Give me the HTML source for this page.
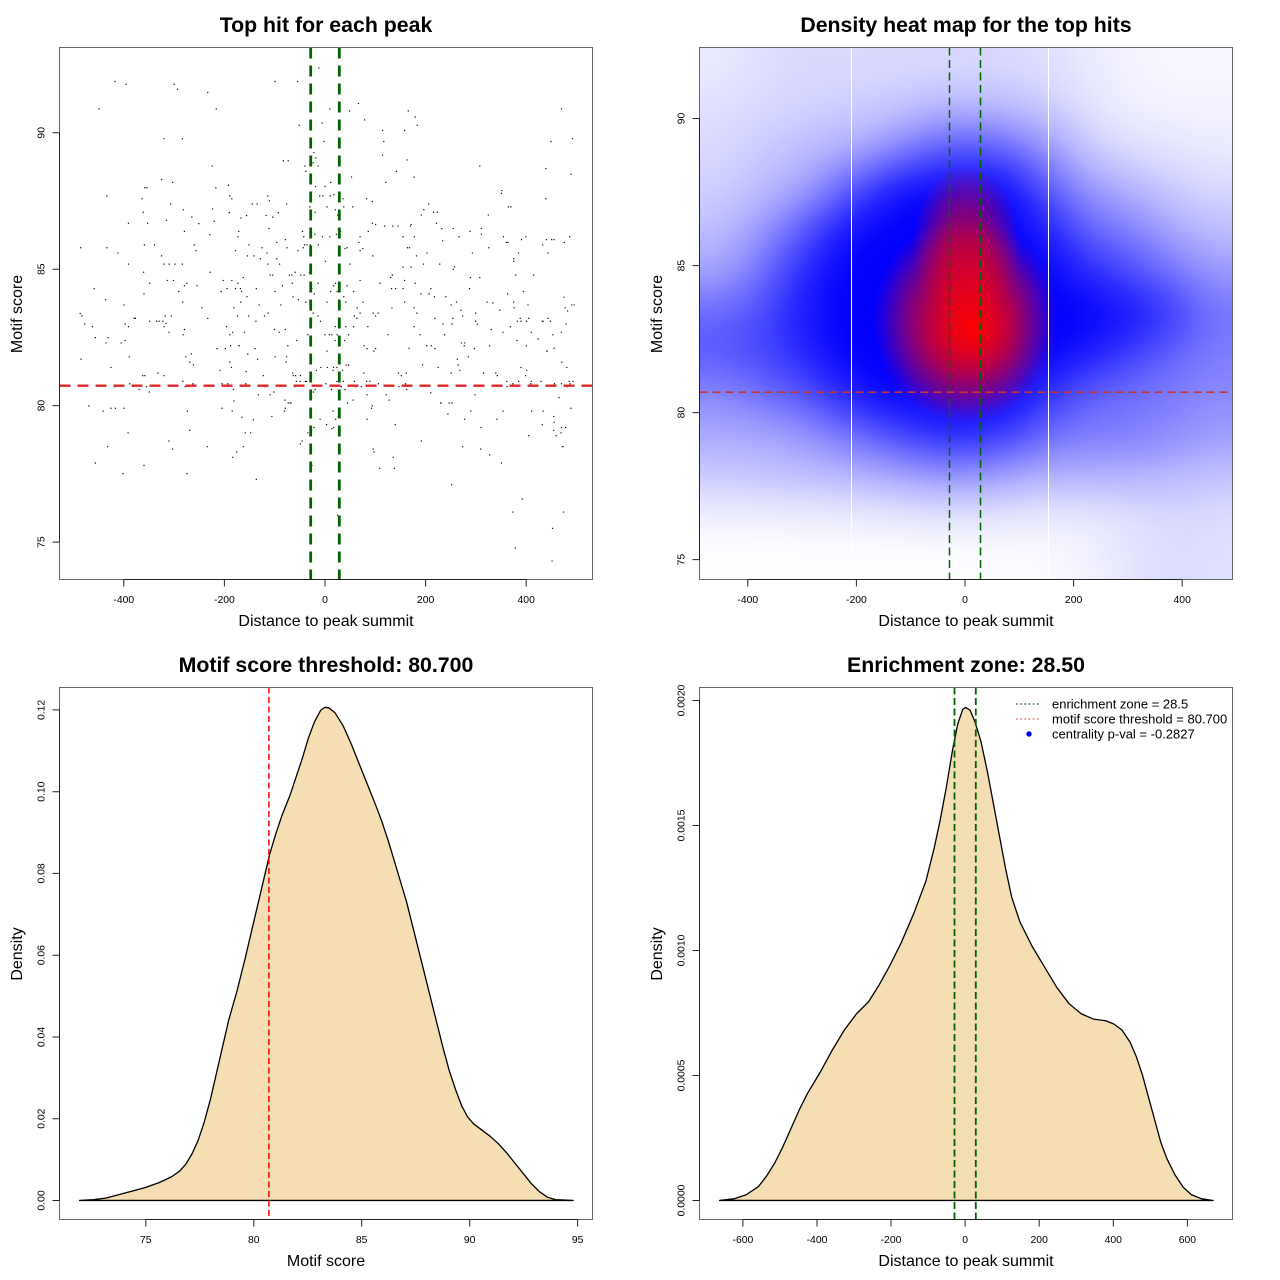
<!DOCTYPE html>
<html><head><meta charset="utf-8"><style>
html,body{margin:0;padding:0;background:#fff}
svg{display:block}
text{font-family:"Liberation Sans",Arial,sans-serif;fill:#000}
.t{font-weight:bold;font-size:21.3px;text-anchor:middle}
.xl{font-size:16px;text-anchor:middle}
.tk{font-size:10.4px;text-anchor:middle}
.lg{font-size:13px}
</style></head><body>
<svg width="1280" height="1280" viewBox="0 0 1280 1280" xmlns="http://www.w3.org/2000/svg">
<defs>
<clipPath id="hm"><rect x="699.5" y="47.5" width="533" height="532"/></clipPath>
<filter id="bl" filterUnits="userSpaceOnUse" x="560" y="-60" width="820" height="760"><feGaussianBlur stdDeviation="22"/></filter>
<radialGradient id="rg1" cx="0.5" cy="0.5" r="0.5" fx="0.54" fy="0.54">
<stop offset="0" stop-color="#f00" stop-opacity="1"/>
<stop offset="0.15" stop-color="#f00" stop-opacity="0.93"/>
<stop offset="0.3" stop-color="#f00" stop-opacity="0.84"/>
<stop offset="0.45" stop-color="#f00" stop-opacity="0.71"/>
<stop offset="0.6" stop-color="#f00" stop-opacity="0.54"/>
<stop offset="0.75" stop-color="#f00" stop-opacity="0.34"/>
<stop offset="0.9" stop-color="#f00" stop-opacity="0.12"/>
<stop offset="1" stop-color="#f00" stop-opacity="0"/>
</radialGradient>
<radialGradient id="rg2" cx="0.5" cy="0.5" r="0.5">
<stop offset="0" stop-color="#f00" stop-opacity="0.6"/>
<stop offset="0.4" stop-color="#f00" stop-opacity="0.5"/>
<stop offset="0.7" stop-color="#f00" stop-opacity="0.28"/>
<stop offset="1" stop-color="#f00" stop-opacity="0"/>
</radialGradient>
</defs>

<!-- ================= TOP LEFT: scatter ================= -->
<text class="t" x="326" y="32">Top hit for each peak</text>
<g transform="scale(0.408497)">
<path fill="#111" d="M779 165h3v3h-3zM280 198h3v3h-3zM307 205h3v3h-3zM425 205h3v3h-3zM433 217h3v3h-3zM672 198h3v3h-3zM727 198h3v3h-3zM507 225h3v3h-3zM528 265h3v3h-3zM241 265h3v3h-3zM876 252h3v3h-3zM854 270h3v3h-3zM806 265h3v3h-3zM998 270h3v3h-3zM1015 285h3v3h-3zM1020 305h3v3h-3zM891 292h3v3h-3zM787 300h3v3h-3zM731 305h3v3h-3zM1373 265h3v3h-3zM935 318h3v3h-3zM989 318h3v3h-3zM400 338h3v3h-3zM445 338h3v3h-3zM1347 345h3v3h-3zM1400 338h3v3h-3zM938 345h3v3h-3zM792 345h3v3h-3zM767 372h3v3h-3zM772 385h3v3h-3zM765 397h3v3h-3zM692 392h3v3h-3zM704 392h3v3h-3zM745 405h3v3h-3zM777 405h3v3h-3zM935 378h3v3h-3zM995 390h3v3h-3zM1173 405h3v3h-3zM518 405h3v3h-3zM1335 411h3v3h-3zM969 418h3v3h-3zM747 418h3v3h-3zM394 438h3v3h-3zM421 445h3v3h-3zM808 445h3v3h-3zM771 455h3v3h-3zM794 455h3v3h-3zM859 432h3v3h-3zM943 445h3v3h-3zM1012 432h3v3h-3zM1396 425h3v3h-3zM1227 465h3v3h-3zM1226 472h3v3h-3zM527 458h3v3h-3zM558 452h3v3h-3zM561 478h3v3h-3zM353 458h3v3h-3zM358 458h3v3h-3zM781 478h3v3h-3zM789 478h3v3h-3zM807 478h3v3h-3zM816 475h3v3h-3zM260 478h3v3h-3zM1335 485h3v3h-3zM1249 505h3v3h-3zM346 485h3v3h-3zM566 485h3v3h-3zM616 498h3v3h-3zM628 498h3v3h-3zM654 478h3v3h-3zM658 490h3v3h-3zM700 498h3v3h-3zM896 485h3v3h-3zM910 492h3v3h-3zM838 485h3v3h-3zM840 505h3v3h-3zM862 505h3v3h-3zM1048 498h3v3h-3zM1036 512h3v3h-3zM1060 518h3v3h-3zM1069 518h3v3h-3zM1194 525h3v3h-3zM349 518h3v3h-3zM360 545h3v3h-3zM416 498h3v3h-3zM447 512h3v3h-3zM468 530h3v3h-3zM519 510h3v3h-3zM523 540h3v3h-3zM560 519h3v3h-3zM588 532h3v3h-3zM602 526h3v3h-3zM650 526h3v3h-3zM666 530h3v3h-3zM680 519h3v3h-3zM757 505h3v3h-3zM770 518h3v3h-3zM799 505h3v3h-3zM819 512h3v3h-3zM825 525h3v3h-3zM910 545h3v3h-3zM960 552h3v3h-3zM1003 552h3v3h-3zM1080 558h3v3h-3zM1108 558h3v3h-3zM1030 525h3v3h-3zM1149 565h3v3h-3zM1177 558h3v3h-3zM1177 572h3v3h-3zM1243 505h3v3h-3zM313 545h3v3h-3zM406 538h3v3h-3zM450 565h3v3h-3zM485 546h3v3h-3zM512 573h3v3h-3zM583 565h3v3h-3zM581 578h3v3h-3zM657 558h3v3h-3zM697 585h3v3h-3zM739 565h3v3h-3zM742 578h3v3h-3zM744 598h3v3h-3zM750 598h3v3h-3zM769 572h3v3h-3zM788 578h3v3h-3zM806 578h3v3h-3zM822 572h3v3h-3zM832 565h3v3h-3zM843 607h3v3h-3zM848 605h3v3h-3zM880 578h3v3h-3zM877 592h3v3h-3zM900 565h3v3h-3zM918 548h3v3h-3zM940 552h3v3h-3zM973 552h3v3h-3zM985 578h3v3h-3zM1005 548h3v3h-3zM1013 578h3v3h-3zM996 605h3v3h-3zM1067 545h3v3h-3zM1082 588h3v3h-3zM1122 578h3v3h-3zM1195 605h3v3h-3zM1231 578h3v3h-3zM1242 592h3v3h-3zM1286 578h3v3h-3zM1327 598h3v3h-3zM1336 585h3v3h-3zM1349 585h3v3h-3zM1355 585h3v3h-3zM1380 592h3v3h-3zM1393 578h3v3h-3zM1275 585h3v3h-3zM196 605h3v3h-3zM260 605h3v3h-3zM352 598h3v3h-3zM377 598h3v3h-3zM474 598h3v3h-3zM478 612h3v3h-3zM575 612h3v3h-3zM608 598h3v3h-3zM640 605h3v3h-3zM676 592h3v3h-3zM701 605h3v3h-3zM728 612h3v3h-3zM741 605h3v3h-3zM758 598h3v3h-3zM778 598h3v3h-3zM229 705h3v3h-3zM287 618h3v3h-3zM313 645h3v3h-3zM350 665h3v3h-3zM394 625h3v3h-3zM427 645h3v3h-3zM400 645h3v3h-3zM413 645h3v3h-3zM445 645h3v3h-3zM408 685h3v3h-3zM450 698h3v3h-3zM513 665h3v3h-3zM545 685h3v3h-3zM566 685h3v3h-3zM581 692h3v3h-3zM604 625h3v3h-3zM620 625h3v3h-3zM636 632h3v3h-3zM652 618h3v3h-3zM676 632h3v3h-3zM683 645h3v3h-3zM654 645h3v3h-3zM660 672h3v3h-3zM666 672h3v3h-3zM690 698h3v3h-3zM707 672h3v3h-3zM713 672h3v3h-3zM721 665h3v3h-3zM735 672h3v3h-3zM714 692h3v3h-3zM743 672h3v3h-3zM756 665h3v3h-3zM795 638h3v3h-3zM829 665h3v3h-3zM855 645h3v3h-3zM880 612h3v3h-3zM887 607h3v3h-3zM911 625h3v3h-3zM1001 605h3v3h-3zM1018 625h3v3h-3zM1005 652h3v3h-3zM1035 645h3v3h-3zM1044 618h3v3h-3zM1075 645h3v3h-3zM1108 658h3v3h-3zM1111 652h3v3h-3zM1155 618h3v3h-3zM1238 592h3v3h-3zM1256 632h3v3h-3zM1256 638h3v3h-3zM1268 618h3v3h-3zM1305 672h3v3h-3zM1340 618h3v3h-3zM1261 672h3v3h-3zM1173 678h3v3h-3zM959 672h3v3h-3zM955 678h3v3h-3zM985 652h3v3h-3zM989 685h3v3h-3zM1015 692h3v3h-3zM1053 705h3v3h-3zM929 692h3v3h-3zM967 705h3v3h-3zM880 685h3v3h-3zM848 698h3v3h-3zM762 705h3v3h-3zM777 692h3v3h-3zM594 678h3v3h-3zM587 705h3v3h-3zM365 692h3v3h-3zM423 685h3v3h-3zM456 692h3v3h-3zM481 698h3v3h-3zM554 705h3v3h-3zM626 705h3v3h-3zM195 766h3v3h-3zM199 772h3v3h-3zM206 792h3v3h-3zM257 732h3v3h-3zM302 745h3v3h-3zM327 778h3v3h-3zM365 785h3v3h-3zM351 718h3v3h-3zM388 785h3v3h-3zM400 798h3v3h-3zM397 785h3v3h-3zM418 772h3v3h-3zM446 738h3v3h-3zM436 712h3v3h-3zM493 752h3v3h-3zM507 778h3v3h-3zM540 712h3v3h-3zM575 705h3v3h-3zM571 752h3v3h-3zM590 712h3v3h-3zM588 738h3v3h-3zM603 725h3v3h-3zM607 772h3v3h-3zM633 745h3v3h-3zM646 772h3v3h-3zM655 765h3v3h-3zM672 712h3v3h-3zM686 745h3v3h-3zM716 725h3v3h-3zM729 732h3v3h-3zM760 758h3v3h-3zM765 765h3v3h-3zM747 738h3v3h-3zM768 718h3v3h-3zM777 772h3v3h-3zM799 738h3v3h-3zM808 712h3v3h-3zM815 698h3v3h-3zM824 712h3v3h-3zM830 712h3v3h-3zM820 692h3v3h-3zM840 725h3v3h-3zM845 738h3v3h-3zM864 712h3v3h-3zM866 772h3v3h-3zM873 752h3v3h-3zM887 738h3v3h-3zM912 765h3v3h-3zM918 772h3v3h-3zM924 765h3v3h-3zM958 752h3v3h-3zM957 705h3v3h-3zM985 705h3v3h-3zM989 738h3v3h-3zM1012 752h3v3h-3zM1019 765h3v3h-3zM1029 718h3v3h-3zM1049 718h3v3h-3zM1062 725h3v3h-3zM1090 725h3v3h-3zM1103 745h3v3h-3zM1116 738h3v3h-3zM1127 758h3v3h-3zM1131 772h3v3h-3zM1148 705h3v3h-3zM1150 678h3v3h-3zM1163 765h3v3h-3zM1191 738h3v3h-3zM1205 740h3v3h-3zM1222 758h3v3h-3zM1241 718h3v3h-3zM1256 738h3v3h-3zM1257 752h3v3h-3zM1280 712h3v3h-3zM1291 745h3v3h-3zM1293 778h3v3h-3zM1328 785h3v3h-3zM1340 778h3v3h-3zM1379 726h3v3h-3zM1382 752h3v3h-3zM1398 745h3v3h-3zM1404 745h3v3h-3zM1388 760h3v3h-3zM1265 785h3v3h-3zM1287 785h3v3h-3zM225 798h3v3h-3zM232 825h3v3h-3zM258 838h3v3h-3zM263 825h3v3h-3zM295 838h3v3h-3zM305 832h3v3h-3zM313 798h3v3h-3zM305 792h3v3h-3zM330 778h3v3h-3zM382 785h3v3h-3zM405 790h3v3h-3zM412 812h3v3h-3zM447 818h3v3h-3zM450 805h3v3h-3zM403 772h3v3h-3zM530 852h3v3h-3zM553 798h3v3h-3zM561 818h3v3h-3zM563 845h3v3h-3zM568 812h3v3h-3zM580 772h3v3h-3zM584 845h3v3h-3zM597 812h3v3h-3zM605 865h3v3h-3zM625 785h3v3h-3zM670 805h3v3h-3zM682 812h3v3h-3zM697 805h3v3h-3zM703 845h3v3h-3zM725 832h3v3h-3zM752 818h3v3h-3zM783 785h3v3h-3zM794 818h3v3h-3zM805 818h3v3h-3zM811 818h3v3h-3zM819 798h3v3h-3zM819 832h3v3h-3zM824 818h3v3h-3zM842 832h3v3h-3zM845 798h3v3h-3zM864 798h3v3h-3zM852 818h3v3h-3zM872 778h3v3h-3zM880 765h3v3h-3zM899 798h3v3h-3zM890 845h3v3h-3zM897 852h3v3h-3zM948 818h3v3h-3zM1012 798h3v3h-3zM1027 818h3v3h-3zM1043 845h3v3h-3zM1054 845h3v3h-3zM1063 778h3v3h-3zM1083 792h3v3h-3zM1087 818h3v3h-3zM1105 792h3v3h-3zM1107 778h3v3h-3zM1128 838h3v3h-3zM1135 845h3v3h-3zM1163 785h3v3h-3zM1167 792h3v3h-3zM1197 845h3v3h-3zM1201 805h3v3h-3zM1230 812h3v3h-3zM1248 798h3v3h-3zM1264 832h3v3h-3zM1272 778h3v3h-3zM1274 785h3v3h-3zM1287 845h3v3h-3zM1299 812h3v3h-3zM1316 828h3v3h-3zM1326 785h3v3h-3zM1337 858h3v3h-3zM1346 785h3v3h-3zM1352 818h3v3h-3zM1373 812h3v3h-3zM1384 792h3v3h-3zM197 878h3v3h-3zM270 898h3v3h-3zM315 872h3v3h-3zM348 918h3v3h-3zM353 918h3v3h-3zM385 912h3v3h-3zM400 918h3v3h-3zM453 872h3v3h-3zM467 865h3v3h-3zM472 892h3v3h-3zM463 885h3v3h-3zM537 905h3v3h-3zM550 852h3v3h-3zM561 885h3v3h-3zM565 898h3v3h-3zM583 845h3v3h-3zM601 908h3v3h-3zM623 852h3v3h-3zM629 878h3v3h-3zM643 918h3v3h-3zM672 872h3v3h-3zM700 872h3v3h-3zM699 885h3v3h-3zM715 912h3v3h-3zM716 918h3v3h-3zM722 918h3v3h-3zM734 918h3v3h-3zM733 932h3v3h-3zM746 932h3v3h-3zM759 925h3v3h-3zM773 905h3v3h-3zM784 898h3v3h-3zM799 858h3v3h-3zM800 898h3v3h-3zM814 905h3v3h-3zM815 898h3v3h-3zM823 898h3v3h-3zM828 878h3v3h-3zM837 905h3v3h-3zM846 892h3v3h-3zM852 892h3v3h-3zM839 932h3v3h-3zM866 932h3v3h-3zM889 912h3v3h-3zM896 932h3v3h-3zM904 932h3v3h-3zM914 858h3v3h-3zM918 852h3v3h-3zM974 912h3v3h-3zM981 918h3v3h-3zM993 912h3v3h-3zM1000 851h3v3h-3zM1033 892h3v3h-3zM1063 852h3v3h-3zM1071 898h3v3h-3zM1103 912h3v3h-3zM1118 878h3v3h-3zM1120 892h3v3h-3zM1124 905h3v3h-3zM1136 838h3v3h-3zM1145 872h3v3h-3zM1160 852h3v3h-3zM1182 912h3v3h-3zM1212 912h3v3h-3zM1216 918h3v3h-3zM1239 932h3v3h-3zM1274 898h3v3h-3zM1288 905h3v3h-3zM1299 932h3v3h-3zM1338 858h3v3h-3zM1355 851h3v3h-3zM1374 885h3v3h-3zM1386 898h3v3h-3zM1392 932h3v3h-3zM1401 932h3v3h-3zM280 945h3v3h-3zM316 938h3v3h-3zM339 952h3v3h-3zM364 958h3v3h-3zM357 945h3v3h-3zM446 932h3v3h-3zM452 945h3v3h-3zM471 938h3v3h-3zM542 938h3v3h-3zM556 938h3v3h-3zM570 952h3v3h-3zM600 938h3v3h-3zM648 945h3v3h-3zM660 965h3v3h-3zM631 965h3v3h-3zM669 958h3v3h-3zM696 978h3v3h-3zM709 985h3v3h-3zM720 945h3v3h-3zM724 932h3v3h-3zM749 932h3v3h-3zM766 958h3v3h-3zM770 952h3v3h-3zM796 938h3v3h-3zM810 952h3v3h-3zM823 932h3v3h-3zM834 945h3v3h-3zM843 952h3v3h-3zM869 945h3v3h-3zM883 945h3v3h-3zM897 965h3v3h-3zM925 938h3v3h-3zM944 965h3v3h-3zM951 978h3v3h-3zM975 945h3v3h-3zM991 938h3v3h-3zM994 952h3v3h-3zM1053 960h3v3h-3zM1078 985h3v3h-3zM1098 985h3v3h-3zM1161 965h3v3h-3zM1240 945h3v3h-3zM1254 938h3v3h-3zM1268 932h3v3h-3zM1285 918h3v3h-3zM1298 938h3v3h-3zM1323 932h3v3h-3zM1373 938h3v3h-3zM1387 945h3v3h-3zM1394 938h3v3h-3zM1396 998h3v3h-3zM1367 972h3v3h-3zM1356 938h3v3h-3zM216 992h3v3h-3zM251 1005h3v3h-3zM270 998h3v3h-3zM281 998h3v3h-3zM302 998h3v3h-3zM312 1058h3v3h-3zM457 1005h3v3h-3zM463 1052h3v3h-3zM542 998h3v3h-3zM571 980h3v3h-3zM567 1005h3v3h-3zM591 1020h3v3h-3zM599 1058h3v3h-3zM612 1058h3v3h-3zM619 1026h3v3h-3zM664 1018h3v3h-3zM697 998h3v3h-3zM695 1005h3v3h-3zM704 985h3v3h-3zM711 985h3v3h-3zM752 1058h3v3h-3zM757 1065h3v3h-3zM767 1045h3v3h-3zM782 1025h3v3h-3zM798 1038h3v3h-3zM811 1048h3v3h-3zM814 1005h3v3h-3zM820 1025h3v3h-3zM827 1018h3v3h-3zM815 1045h3v3h-3zM849 985h3v3h-3zM863 978h3v3h-3zM897 1025h3v3h-3zM908 998h3v3h-3zM910 992h3v3h-3zM966 1038h3v3h-3zM1030 1078h3v3h-3zM1077 985h3v3h-3zM1095 1012h3v3h-3zM1105 985h3v3h-3zM1136 1025h3v3h-3zM1151 1005h3v3h-3zM1176 1045h3v3h-3zM1215 1025h3v3h-3zM1230 1005h3v3h-3zM1293 1065h3v3h-3zM1300 1005h3v3h-3zM1326 1038h3v3h-3zM1328 1005h3v3h-3zM1354 1018h3v3h-3zM1355 1032h3v3h-3zM1354 1052h3v3h-3zM1360 1065h3v3h-3zM1372 1058h3v3h-3zM1383 1045h3v3h-3zM1373 1045h3v3h-3zM1375 1092h3v3h-3zM232 1132h3v3h-3zM262 1092h3v3h-3zM300 1158h3v3h-3zM351 1138h3v3h-3zM412 1078h3v3h-3zM421 1098h3v3h-3zM456 1158h3v3h-3zM506 1092h3v3h-3zM568 1118h3v3h-3zM578 1105h3v3h-3zM594 1092h3v3h-3zM626 1172h3v3h-3zM734 1085h3v3h-3zM738 1078h3v3h-3zM762 1138h3v3h-3zM912 1098h3v3h-3zM914 1105h3v3h-3zM928 1145h3v3h-3zM964 1145h3v3h-3zM961 1118h3v3h-3zM1104 1185h3v3h-3zM1131 1092h3v3h-3zM1175 1098h3v3h-3zM1197 1112h3v3h-3zM1226 1132h3v3h-3zM1377 1092h3v3h-3zM1254 1252h3v3h-3zM1277 1220h3v3h-3zM1351 1292h3v3h-3zM1378 1252h3v3h-3zM1260 1340h3v3h-3zM1350 1372h3v3h-3zM825 1260h3v3h-3z"/>
</g>
<line x1="310.7" y1="47.5" x2="310.7" y2="579.5" stroke="#006400" stroke-width="2.8" stroke-dasharray="11 7"/>
<line x1="339.3" y1="47.5" x2="339.3" y2="579.5" stroke="#006400" stroke-width="2.8" stroke-dasharray="11 7"/>
<line x1="59.5" y1="385.7" x2="592.5" y2="385.7" stroke="#dc2828" stroke-width="2.3" stroke-dasharray="11 7"/>
<rect x="59.5" y="47.5" width="533" height="532" fill="none" stroke="#666" stroke-width="1"/>
<g stroke="#222" stroke-width="1" fill="none">
<path d="M123.8 579.5H526.2M123.8 579.5v7M224.4 579.5v7M325 579.5v7M425.6 579.5v7M526.2 579.5v7"/>
<path d="M59.5 132.8V542.1M59.5 132.8h-7M59.5 269.2h-7M59.5 405.6h-7M59.5 542.1h-7"/>
</g>
<text class="tk" x="123.8" y="603">-400</text><text class="tk" x="224.4" y="603">-200</text><text class="tk" x="325" y="603">0</text><text class="tk" x="425.6" y="603">200</text><text class="tk" x="526.2" y="603">400</text>
<text class="tk" transform="translate(44.4,542.1) rotate(-90)">75</text>
<text class="tk" transform="translate(44.4,405.6) rotate(-90)">80</text>
<text class="tk" transform="translate(44.4,269.2) rotate(-90)">85</text>
<text class="tk" transform="translate(44.4,132.8) rotate(-90)">90</text>
<text class="xl" x="326" y="626">Distance to peak summit</text>
<text class="xl" transform="translate(22,314) rotate(-90)">Motif score</text>

<!-- ================= TOP RIGHT: heat map ================= -->
<text class="t" x="966" y="32">Density heat map for the top hits</text>
<g clip-path="url(#hm)">
<rect x="699.5" y="47.5" width="533" height="532" fill="#fff"/>
<g filter="url(#bl)" fill="#0000ff">
<rect x="640" y="-10" width="101" height="98.5" fill-opacity=".08"/><rect x="740.5" y="-10" width="41.5" height="98.5" fill-opacity=".12"/><rect x="781.5" y="-10" width="41.5" height="98.5" fill-opacity=".15"/><rect x="822.5" y="-10" width="41.5" height="98.5" fill-opacity=".15"/><rect x="863.5" y="-10" width="41.5" height="98.5" fill-opacity=".15"/><rect x="904.5" y="-10" width="41.5" height="98.5" fill-opacity=".15"/><rect x="945.5" y="-10" width="41.5" height="98.5" fill-opacity=".15"/><rect x="986.5" y="-10" width="41.5" height="98.5" fill-opacity=".15"/><rect x="1027.5" y="-10" width="41.5" height="98.5" fill-opacity=".12"/><rect x="1068.5" y="-10" width="41.5" height="98.5" fill-opacity=".08"/><rect x="1109.5" y="-10" width="41.5" height="98.5" fill-opacity=".05"/><rect x="1150.5" y="-10" width="41.5" height="98.5" fill-opacity=".03"/><rect x="1191.5" y="-10" width="110" height="98.5" fill-opacity=".03"/>
<rect x="640" y="88" width="101" height="41.5" fill-opacity=".12"/><rect x="740.5" y="88" width="41.5" height="41.5" fill-opacity=".15"/><rect x="781.5" y="88" width="41.5" height="41.5" fill-opacity=".17"/><rect x="822.5" y="88" width="41.5" height="41.5" fill-opacity=".18"/><rect x="863.5" y="88" width="41.5" height="41.5" fill-opacity=".2"/><rect x="904.5" y="88" width="41.5" height="41.5" fill-opacity=".25"/><rect x="945.5" y="88" width="41.5" height="41.5" fill-opacity=".28"/><rect x="986.5" y="88" width="41.5" height="41.5" fill-opacity=".25"/><rect x="1027.5" y="88" width="41.5" height="41.5" fill-opacity=".2"/><rect x="1068.5" y="88" width="41.5" height="41.5" fill-opacity=".1"/><rect x="1109.5" y="88" width="41.5" height="41.5" fill-opacity=".06"/><rect x="1150.5" y="88" width="41.5" height="41.5" fill-opacity=".05"/><rect x="1191.5" y="88" width="110" height="41.5" fill-opacity=".05"/>
<rect x="640" y="129" width="101" height="41.5" fill-opacity=".15"/><rect x="740.5" y="129" width="41.5" height="41.5" fill-opacity=".2"/><rect x="781.5" y="129" width="41.5" height="41.5" fill-opacity=".25"/><rect x="822.5" y="129" width="41.5" height="41.5" fill-opacity=".3"/><rect x="863.5" y="129" width="41.5" height="41.5" fill-opacity=".4"/><rect x="904.5" y="129" width="41.5" height="41.5" fill-opacity=".6"/><rect x="945.5" y="129" width="41.5" height="41.5" fill-opacity=".7"/><rect x="986.5" y="129" width="41.5" height="41.5" fill-opacity=".6"/><rect x="1027.5" y="129" width="41.5" height="41.5" fill-opacity=".4"/><rect x="1068.5" y="129" width="41.5" height="41.5" fill-opacity=".2"/><rect x="1109.5" y="129" width="41.5" height="41.5" fill-opacity=".12"/><rect x="1150.5" y="129" width="41.5" height="41.5" fill-opacity=".1"/><rect x="1191.5" y="129" width="110" height="41.5" fill-opacity=".08"/>
<rect x="640" y="170" width="101" height="41.5" fill-opacity=".18"/><rect x="740.5" y="170" width="41.5" height="41.5" fill-opacity=".25"/><rect x="781.5" y="170" width="41.5" height="41.5" fill-opacity=".35"/><rect x="822.5" y="170" width="41.5" height="41.5" fill-opacity=".6"/><rect x="863.5" y="170" width="41.5" height="41.5" fill-opacity=".9"/><rect x="904.5" y="170" width="41.5" height="41.5" fill-opacity="1"/><rect x="945.5" y="170" width="41.5" height="41.5" fill-opacity="1"/><rect x="986.5" y="170" width="41.5" height="41.5" fill-opacity="1"/><rect x="1027.5" y="170" width="41.5" height="41.5" fill-opacity=".65"/><rect x="1068.5" y="170" width="41.5" height="41.5" fill-opacity=".4"/><rect x="1109.5" y="170" width="41.5" height="41.5" fill-opacity=".3"/><rect x="1150.5" y="170" width="41.5" height="41.5" fill-opacity=".2"/><rect x="1191.5" y="170" width="110" height="41.5" fill-opacity=".15"/>
<rect x="640" y="211" width="101" height="41.5" fill-opacity=".25"/><rect x="740.5" y="211" width="41.5" height="41.5" fill-opacity=".4"/><rect x="781.5" y="211" width="41.5" height="41.5" fill-opacity=".65"/><rect x="822.5" y="211" width="41.5" height="41.5" fill-opacity=".95"/><rect x="863.5" y="211" width="41.5" height="41.5" fill-opacity="1"/><rect x="904.5" y="211" width="41.5" height="41.5" fill-opacity="1"/><rect x="945.5" y="211" width="41.5" height="41.5" fill-opacity="1"/><rect x="986.5" y="211" width="41.5" height="41.5" fill-opacity="1"/><rect x="1027.5" y="211" width="41.5" height="41.5" fill-opacity=".9"/><rect x="1068.5" y="211" width="41.5" height="41.5" fill-opacity=".6"/><rect x="1109.5" y="211" width="41.5" height="41.5" fill-opacity=".5"/><rect x="1150.5" y="211" width="41.5" height="41.5" fill-opacity=".35"/><rect x="1191.5" y="211" width="110" height="41.5" fill-opacity=".25"/>
<rect x="640" y="252" width="101" height="41.5" fill-opacity=".35"/><rect x="740.5" y="252" width="41.5" height="41.5" fill-opacity=".55"/><rect x="781.5" y="252" width="41.5" height="41.5" fill-opacity=".85"/><rect x="822.5" y="252" width="41.5" height="41.5" fill-opacity="1"/><rect x="863.5" y="252" width="41.5" height="41.5" fill-opacity="1"/><rect x="904.5" y="252" width="41.5" height="41.5" fill-opacity="1"/><rect x="945.5" y="252" width="41.5" height="41.5" fill-opacity="1"/><rect x="986.5" y="252" width="41.5" height="41.5" fill-opacity="1"/><rect x="1027.5" y="252" width="41.5" height="41.5" fill-opacity="1"/><rect x="1068.5" y="252" width="41.5" height="41.5" fill-opacity=".85"/><rect x="1109.5" y="252" width="41.5" height="41.5" fill-opacity=".7"/><rect x="1150.5" y="252" width="41.5" height="41.5" fill-opacity=".55"/><rect x="1191.5" y="252" width="110" height="41.5" fill-opacity=".4"/>
<rect x="640" y="293" width="101" height="41.5" fill-opacity=".6"/><rect x="740.5" y="293" width="41.5" height="41.5" fill-opacity=".7"/><rect x="781.5" y="293" width="41.5" height="41.5" fill-opacity=".9"/><rect x="822.5" y="293" width="41.5" height="41.5" fill-opacity="1"/><rect x="863.5" y="293" width="41.5" height="41.5" fill-opacity="1"/><rect x="904.5" y="293" width="41.5" height="41.5" fill-opacity="1"/><rect x="945.5" y="293" width="41.5" height="41.5" fill-opacity="1"/><rect x="986.5" y="293" width="41.5" height="41.5" fill-opacity="1"/><rect x="1027.5" y="293" width="41.5" height="41.5" fill-opacity="1"/><rect x="1068.5" y="293" width="41.5" height="41.5" fill-opacity="1"/><rect x="1109.5" y="293" width="41.5" height="41.5" fill-opacity=".95"/><rect x="1150.5" y="293" width="41.5" height="41.5" fill-opacity=".8"/><rect x="1191.5" y="293" width="110" height="41.5" fill-opacity=".55"/>
<rect x="640" y="334" width="101" height="41.5" fill-opacity=".65"/><rect x="740.5" y="334" width="41.5" height="41.5" fill-opacity=".72"/><rect x="781.5" y="334" width="41.5" height="41.5" fill-opacity=".85"/><rect x="822.5" y="334" width="41.5" height="41.5" fill-opacity="1"/><rect x="863.5" y="334" width="41.5" height="41.5" fill-opacity="1"/><rect x="904.5" y="334" width="41.5" height="41.5" fill-opacity="1"/><rect x="945.5" y="334" width="41.5" height="41.5" fill-opacity="1"/><rect x="986.5" y="334" width="41.5" height="41.5" fill-opacity="1"/><rect x="1027.5" y="334" width="41.5" height="41.5" fill-opacity="1"/><rect x="1068.5" y="334" width="41.5" height="41.5" fill-opacity=".9"/><rect x="1109.5" y="334" width="41.5" height="41.5" fill-opacity=".75"/><rect x="1150.5" y="334" width="41.5" height="41.5" fill-opacity=".6"/><rect x="1191.5" y="334" width="110" height="41.5" fill-opacity=".5"/>
<rect x="640" y="375" width="101" height="41.5" fill-opacity=".45"/><rect x="740.5" y="375" width="41.5" height="41.5" fill-opacity=".55"/><rect x="781.5" y="375" width="41.5" height="41.5" fill-opacity=".65"/><rect x="822.5" y="375" width="41.5" height="41.5" fill-opacity=".85"/><rect x="863.5" y="375" width="41.5" height="41.5" fill-opacity="1"/><rect x="904.5" y="375" width="41.5" height="41.5" fill-opacity="1"/><rect x="945.5" y="375" width="41.5" height="41.5" fill-opacity="1"/><rect x="986.5" y="375" width="41.5" height="41.5" fill-opacity="1"/><rect x="1027.5" y="375" width="41.5" height="41.5" fill-opacity=".8"/><rect x="1068.5" y="375" width="41.5" height="41.5" fill-opacity=".6"/><rect x="1109.5" y="375" width="41.5" height="41.5" fill-opacity=".55"/><rect x="1150.5" y="375" width="41.5" height="41.5" fill-opacity=".5"/><rect x="1191.5" y="375" width="110" height="41.5" fill-opacity=".45"/>
<rect x="640" y="416" width="101" height="41.5" fill-opacity=".32"/><rect x="740.5" y="416" width="41.5" height="41.5" fill-opacity=".33"/><rect x="781.5" y="416" width="41.5" height="41.5" fill-opacity=".38"/><rect x="822.5" y="416" width="41.5" height="41.5" fill-opacity=".5"/><rect x="863.5" y="416" width="41.5" height="41.5" fill-opacity=".65"/><rect x="904.5" y="416" width="41.5" height="41.5" fill-opacity=".8"/><rect x="945.5" y="416" width="41.5" height="41.5" fill-opacity=".85"/><rect x="986.5" y="416" width="41.5" height="41.5" fill-opacity=".75"/><rect x="1027.5" y="416" width="41.5" height="41.5" fill-opacity=".55"/><rect x="1068.5" y="416" width="41.5" height="41.5" fill-opacity=".5"/><rect x="1109.5" y="416" width="41.5" height="41.5" fill-opacity=".5"/><rect x="1150.5" y="416" width="41.5" height="41.5" fill-opacity=".45"/><rect x="1191.5" y="416" width="110" height="41.5" fill-opacity=".38"/>
<rect x="640" y="457" width="101" height="41.5" fill-opacity=".2"/><rect x="740.5" y="457" width="41.5" height="41.5" fill-opacity=".22"/><rect x="781.5" y="457" width="41.5" height="41.5" fill-opacity=".24"/><rect x="822.5" y="457" width="41.5" height="41.5" fill-opacity=".26"/><rect x="863.5" y="457" width="41.5" height="41.5" fill-opacity=".3"/><rect x="904.5" y="457" width="41.5" height="41.5" fill-opacity=".35"/><rect x="945.5" y="457" width="41.5" height="41.5" fill-opacity=".38"/><rect x="986.5" y="457" width="41.5" height="41.5" fill-opacity=".33"/><rect x="1027.5" y="457" width="41.5" height="41.5" fill-opacity=".28"/><rect x="1068.5" y="457" width="41.5" height="41.5" fill-opacity=".28"/><rect x="1109.5" y="457" width="41.5" height="41.5" fill-opacity=".28"/><rect x="1150.5" y="457" width="41.5" height="41.5" fill-opacity=".25"/><rect x="1191.5" y="457" width="110" height="41.5" fill-opacity=".22"/>
<rect x="640" y="498" width="101" height="41.5" fill-opacity=".04"/><rect x="740.5" y="498" width="41.5" height="41.5" fill-opacity=".04"/><rect x="781.5" y="498" width="41.5" height="41.5" fill-opacity=".05"/><rect x="822.5" y="498" width="41.5" height="41.5" fill-opacity=".05"/><rect x="863.5" y="498" width="41.5" height="41.5" fill-opacity=".06"/><rect x="904.5" y="498" width="41.5" height="41.5" fill-opacity=".08"/><rect x="945.5" y="498" width="41.5" height="41.5" fill-opacity=".08"/><rect x="986.5" y="498" width="41.5" height="41.5" fill-opacity=".07"/><rect x="1027.5" y="498" width="41.5" height="41.5" fill-opacity=".06"/><rect x="1068.5" y="498" width="41.5" height="41.5" fill-opacity=".07"/><rect x="1109.5" y="498" width="41.5" height="41.5" fill-opacity=".1"/><rect x="1150.5" y="498" width="41.5" height="41.5" fill-opacity=".14"/><rect x="1191.5" y="498" width="110" height="41.5" fill-opacity=".13"/>
<rect x="986.5" y="539" width="41.5" height="101" fill-opacity=".01"/><rect x="1027.5" y="539" width="41.5" height="101" fill-opacity=".02"/><rect x="1068.5" y="539" width="41.5" height="101" fill-opacity=".05"/><rect x="1109.5" y="539" width="41.5" height="101" fill-opacity=".1"/><rect x="1150.5" y="539" width="41.5" height="101" fill-opacity=".14"/><rect x="1191.5" y="539" width="110" height="101" fill-opacity=".12"/>
</g>
<ellipse cx="965" cy="320" rx="93" ry="104" fill="url(#rg1)"/>
<ellipse cx="966" cy="245" rx="54" ry="80" fill="url(#rg2)"/>
<line x1="851.5" y1="47.5" x2="851.5" y2="579.5" stroke="#fff" stroke-width="1"/>
<line x1="1048.5" y1="47.5" x2="1048.5" y2="579.5" stroke="#fff" stroke-width="1"/>
<line x1="949.5" y1="47.5" x2="949.5" y2="579.5" stroke="#006400" stroke-width="1.5" stroke-dasharray="8 4.5"/>
<line x1="980.5" y1="47.5" x2="980.5" y2="579.5" stroke="#006400" stroke-width="1.5" stroke-dasharray="8 4.5"/>
<line x1="699.5" y1="392.2" x2="1232.5" y2="392.2" stroke="#cc3333" stroke-width="1.6" stroke-dasharray="8 5"/>
</g>
<rect x="699.5" y="47.5" width="533" height="532" fill="none" stroke="#666" stroke-width="1"/>
<g stroke="#222" stroke-width="1" fill="none">
<path d="M747.8 579.5H1182.2M747.8 579.5v7M856.4 579.5v7M965 579.5v7M1073.6 579.5v7M1182.2 579.5v7"/>
<path d="M699.5 118.5V559.6M699.5 118.5h-7M699.5 265.6h-7M699.5 412.6h-7M699.5 559.6h-7"/>
</g>
<text class="tk" x="747.8" y="603">-400</text><text class="tk" x="856.4" y="603">-200</text><text class="tk" x="965" y="603">0</text><text class="tk" x="1073.6" y="603">200</text><text class="tk" x="1182.2" y="603">400</text>
<text class="tk" transform="translate(684.4,559.6) rotate(-90)">75</text>
<text class="tk" transform="translate(684.4,412.6) rotate(-90)">80</text>
<text class="tk" transform="translate(684.4,265.6) rotate(-90)">85</text>
<text class="tk" transform="translate(684.4,118.5) rotate(-90)">90</text>
<text class="xl" x="966" y="626">Distance to peak summit</text>
<text class="xl" transform="translate(662,314) rotate(-90)">Motif score</text>

<!-- ================= BOTTOM LEFT ================= -->
<text class="t" x="326" y="672">Motif score threshold: 80.700</text>
<g transform="translate(0,640) scale(0.408497)">
<path fill="#f5deb3" stroke="#000" stroke-width="1.3" vector-effect="non-scaling-stroke" stroke-linejoin="round" d="M195 1372L230 1370L260 1366L290 1358L320 1350L357 1340L390 1328L420 1314L440 1300L455 1283L470 1258L485 1225L500 1180L515 1125L530 1060L545 995L560 930L580 860L600 780L620 695L640 610L660 525L675 475L690 430L710 380L725 335L740 290L755 240L770 200L785 172L795 165L805 166L820 178L840 210L860 255L880 305L900 355L920 405L935 445L950 490L965 540L980 590L995 640L1010 700L1025 760L1040 820L1055 880L1070 940L1085 1000L1100 1055L1115 1100L1130 1140L1145 1168L1160 1185L1180 1200L1200 1215L1220 1233L1240 1255L1260 1280L1280 1305L1300 1330L1320 1350L1340 1364L1360 1370L1403 1372Z"/>
</g>
<line x1="268.9" y1="687.5" x2="268.9" y2="1219.5" stroke="#ff0000" stroke-width="1.5" stroke-dasharray="6 3.5"/>
<rect x="59.5" y="687.5" width="533" height="532" fill="none" stroke="#666" stroke-width="1"/>
<g stroke="#222" stroke-width="1" fill="none">
<path d="M145.8 1219.5H577.6M145.8 1219.5v7M253.8 1219.5v7M361.7 1219.5v7M469.7 1219.5v7M577.6 1219.5v7"/>
<path d="M59.5 709.9V1200.5M59.5 1200.5h-7M59.5 1118.7h-7M59.5 1037h-7M59.5 955.2h-7M59.5 873.4h-7M59.5 791.7h-7M59.5 709.9h-7"/>
</g>
<text class="tk" x="145.8" y="1243">75</text><text class="tk" x="253.8" y="1243">80</text><text class="tk" x="361.7" y="1243">85</text><text class="tk" x="469.7" y="1243">90</text><text class="tk" x="577.6" y="1243">95</text>
<text class="tk" transform="translate(44.4,1200.5) rotate(-90)">0.00</text>
<text class="tk" transform="translate(44.4,1118.7) rotate(-90)">0.02</text>
<text class="tk" transform="translate(44.4,1037) rotate(-90)">0.04</text>
<text class="tk" transform="translate(44.4,955.2) rotate(-90)">0.06</text>
<text class="tk" transform="translate(44.4,873.4) rotate(-90)">0.08</text>
<text class="tk" transform="translate(44.4,791.7) rotate(-90)">0.10</text>
<text class="tk" transform="translate(44.4,709.9) rotate(-90)">0.12</text>
<text class="xl" x="326" y="1266">Motif score</text>
<text class="xl" transform="translate(22,954) rotate(-90)">Density</text>

<!-- ================= BOTTOM RIGHT ================= -->
<text class="t" x="966" y="672">Enrichment zone: 28.50</text>
<g transform="translate(640,640) scale(0.408497)">
<path fill="#f5deb3" stroke="#000" stroke-width="1.3" vector-effect="non-scaling-stroke" stroke-linejoin="round" d="M195 1372L230 1368L260 1358L290 1338L310 1312L330 1280L350 1240L370 1195L390 1150L410 1110L440 1060L470 1005L500 955L530 915L560 885L585 845L610 800L640 740L670 670L700 590L720 510L735 440L750 360L765 270L778 205L790 170L797 165L808 172L820 200L835 250L850 320L865 400L880 480L895 560L910 630L930 690L960 750L990 800L1020 850L1050 890L1080 915L1110 928L1140 932L1160 940L1180 955L1200 985L1215 1020L1230 1065L1245 1120L1260 1175L1275 1230L1290 1270L1310 1310L1330 1340L1350 1358L1375 1368L1403 1372Z"/>
</g>
<line x1="954.5" y1="687.5" x2="954.5" y2="1219.5" stroke="#006400" stroke-width="1.8" stroke-dasharray="7 3.5"/>
<line x1="975.8" y1="687.5" x2="975.8" y2="1219.5" stroke="#006400" stroke-width="1.8" stroke-dasharray="7 3.5"/>
<rect x="699.5" y="687.5" width="533" height="532" fill="none" stroke="#666" stroke-width="1"/>
<g stroke="#222" stroke-width="1" fill="none">
<path d="M742.9 1219.5H1187.4M742.9 1219.5v7M817 1219.5v7M891 1219.5v7M965.1 1219.5v7M1039.2 1219.5v7M1113.3 1219.5v7M1187.4 1219.5v7"/>
<path d="M699.5 700.5V1200.5M699.5 1200.5h-7M699.5 1075.5h-7M699.5 950.5h-7M699.5 825.5h-7M699.5 700.5h-7"/>
</g>
<text class="tk" x="742.9" y="1243">-600</text><text class="tk" x="817" y="1243">-400</text><text class="tk" x="891" y="1243">-200</text><text class="tk" x="965.1" y="1243">0</text><text class="tk" x="1039.2" y="1243">200</text><text class="tk" x="1113.3" y="1243">400</text><text class="tk" x="1187.4" y="1243">600</text>
<text class="tk" transform="translate(684.4,1200.5) rotate(-90)">0.0000</text>
<text class="tk" transform="translate(684.4,1075.5) rotate(-90)">0.0005</text>
<text class="tk" transform="translate(684.4,950.5) rotate(-90)">0.0010</text>
<text class="tk" transform="translate(684.4,825.5) rotate(-90)">0.0015</text>
<text class="tk" transform="translate(684.4,700.5) rotate(-90)">0.0020</text>
<text class="xl" x="966" y="1266">Distance to peak summit</text>
<text class="xl" transform="translate(662,954) rotate(-90)">Density</text>
<line x1="1016" y1="704" x2="1041" y2="704" stroke="#006400" stroke-width="1.3" stroke-dasharray="1.6 2.6"/>
<line x1="1016" y1="719" x2="1041" y2="719" stroke="#e85a5a" stroke-width="1.3" stroke-dasharray="1.6 2.6"/>
<circle cx="1029" cy="734" r="2.7" fill="#0000ff"/>
<text class="lg" x="1052" y="708.5">enrichment zone = 28.5</text>
<text class="lg" x="1052" y="723.7">motif score threshold = 80.700</text>
<text class="lg" x="1052" y="738.5">centrality p-val = -0.2827</text>
</svg>
</body></html>
